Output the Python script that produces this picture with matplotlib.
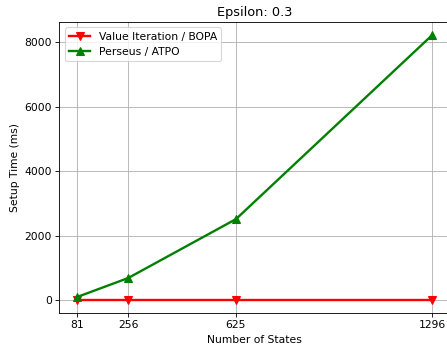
import matplotlib
matplotlib.use("Agg")
import matplotlib.pyplot as plt

# number of states per problem size
num_states = [81, 256, 625, 1296]

# setup time in ms
vi_bopa_ms = [5, 5, 5, 5]
perseus_atpo_ms = [90, 680, 2510, 8220]

# the original was rendered at a lower dpi, so keep default styles and scale via dpi
dpi = 77
fig = plt.figure(figsize=(447 / dpi, 350 / dpi), dpi=dpi)
ax = fig.add_axes([0.1326, 0.1057, 0.8736, 0.8314])

ax.plot(num_states, vi_bopa_ms, color="red", marker="v", markersize=6.8, linewidth=2.2,
        label="Value Iteration / BOPA")
ax.plot(num_states, perseus_atpo_ms, color="green", marker="^", markersize=6.8, linewidth=2.2,
        label="Perseus / ATPO")

ax.set_title("Epsilon: 0.3")
ax.set_xlabel("Number of States")
ax.set_ylabel("Setup Time (ms)")
ax.set_xticks(num_states)
ax.grid(True)
ax.legend(loc="upper left")

fig.savefig("out.png", dpi=dpi)
